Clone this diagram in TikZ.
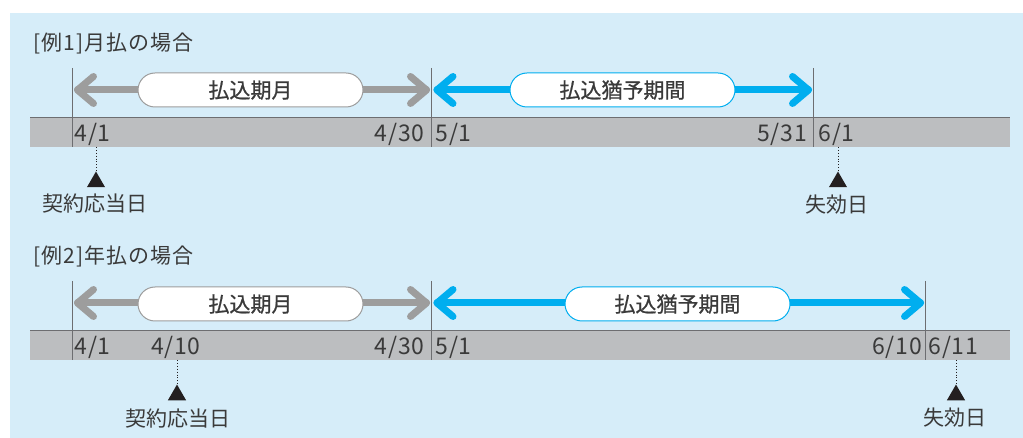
\documentclass[tikz,border=0pt]{standalone}
\usepackage{fontspec}
\setmainfont{Noto Sans CJK JP}
\newfontfamily\jpb[FakeBold=0.8]{Noto Sans CJK JP}
\newfontfamily\titlef[LetterSpace=5]{Noto Sans CJK JP}
\newfontfamily\datef[LetterSpace=3]{Noto Sans CJK JP}
\usetikzlibrary{calc,shapes.geometric}
\definecolor{bgblue}{HTML}{D6EDF9}
\definecolor{barg}{HTML}{BCBEC0}
\definecolor{barl}{HTML}{6D6E71}
\definecolor{arrg}{HTML}{9D9D9D}
\definecolor{arrb}{HTML}{00AEEF}
\definecolor{txt}{HTML}{3A3A3A}
\definecolor{trik}{HTML}{231F20}
\tikzset{
  titlelab/.style={anchor=west,inner sep=0pt,font=\titlef\fontsize{21}{21}\selectfont,text=txt},
  datelab/.style={inner sep=0pt,font=\datef\fontsize{23}{23}\selectfont,text=txt},
  lab/.style={inner sep=0pt,font=\fontsize{21}{21}\selectfont,text=txt},
  vline/.style={draw=barl,line width=0.9pt},
  grayarr/.style={draw=arrg,line width=7pt,line cap=round,line join=round},
  bluearr/.style={draw=arrb,line width=7pt,line cap=round,line join=round},
  pillg/.style={draw=arrg,fill=white,line width=1pt,rounded corners=17pt,minimum width=225pt,minimum height=34pt,inner sep=0pt,font=\jpb\fontsize{21}{21}\selectfont,text=txt},
  pillb/.style={pillg,draw=arrb},
  dotln/.style={draw=trik,line width=0.9pt,dotted},
  trimark/.style={regular polygon,regular polygon sides=3,fill=trik,minimum size=21pt,inner sep=0pt},
}
\begin{document}
\begin{tikzpicture}[x=1pt,y=-1pt]
\useasboundingbox (0,0) rectangle (1023,438);
\fill[white] (0,0) rectangle (1023,438);
\fill[bgblue] (10,13) rectangle (1023,438);

% ---------- Row 1 ----------
\node[titlelab] (t1) at (33,43) {[例1]月払の場合};
\fill[barg] (30,117) rectangle (1010,147);
\draw[barl,line width=1.2pt] (30,117.5) -- (1010,117.5);
\coordinate (a1) at (72,68);
\coordinate (b1) at (431,68);
\coordinate (c1) at (813,68);
\draw[vline] (a1) -- (72,147);
\draw[vline] (b1) -- (431,147);
\draw[vline] (c1) -- (813,147);
% gray arrow
\coordinate (gl1) at (77.5,90);
\coordinate (gr1) at (426.5,90);
\draw[grayarr] (gl1) -- (gr1);
\draw[grayarr] ($(gl1)+(16,-13.5)$) -- (gl1) -- ($(gl1)+(16,13.5)$);
\draw[grayarr] ($(gr1)+(-16,-13.5)$) -- (gr1) -- ($(gr1)+(-16,13.5)$);
\node[pillg] (p1) at (250.5,90) {払込期月};
% blue arrow
\coordinate (bl1) at (437,90);
\coordinate (br1) at (808.5,90);
\draw[bluearr] (bl1) -- (br1);
\draw[bluearr] ($(bl1)+(16,-13.5)$) -- (bl1) -- ($(bl1)+(16,13.5)$);
\draw[bluearr] ($(br1)+(-16,-13.5)$) -- (br1) -- ($(br1)+(-16,13.5)$);
\node[pillb] (q1) at (622.5,90) {払込猶予期間};
% dates
\node[datelab,anchor=base west] (d11) at (74.5,142) {4/1};
\node[datelab,anchor=base east] (d12) at (424.5,142) {4/30};
\node[datelab,anchor=base west] (d13) at (435.5,142) {5/1};
\node[datelab,anchor=base east] (d14) at (807,142) {5/31};
\node[datelab,anchor=base west] (d15) at (818.5,142) {6/1};
% markers
\coordinate (m11) at (96,147);
\node[trimark] (k11) at (96,182) {};
\draw[dotln] (m11) -- (k11.corner 1);
\node[lab] (l11) at (95,204) {契約応当日};
\coordinate (m12) at (838,147);
\node[trimark] (k12) at (838,182) {};
\draw[dotln] (m12) -- (k12.corner 1);
\node[lab] (l12) at (837,205) {失効日};

% ---------- Row 2 ----------
\begin{scope}[shift={(0,213)}]
\node[titlelab] (t2) at (33,43) {[例2]年払の場合};
\fill[barg] (30,117) rectangle (1010,147);
\draw[barl,line width=1.2pt] (30,117.5) -- (1010,117.5);
\coordinate (a2) at (72,68);
\coordinate (b2) at (431,68);
\coordinate (c2) at (925,68);
\draw[vline] (a2) -- (72,147);
\draw[vline] (b2) -- (431,147);
\draw[vline] (c2) -- (925,147);
\coordinate (gl2) at (77.5,90);
\coordinate (gr2) at (426.5,90);
\draw[grayarr] (gl2) -- (gr2);
\draw[grayarr] ($(gl2)+(16,-13.5)$) -- (gl2) -- ($(gl2)+(16,13.5)$);
\draw[grayarr] ($(gr2)+(-16,-13.5)$) -- (gr2) -- ($(gr2)+(-16,13.5)$);
\node[pillg] (p2) at (250.5,91) {払込期月};
\coordinate (bl2) at (437,90);
\coordinate (br2) at (920.5,90);
\draw[bluearr] (bl2) -- (br2);
\draw[bluearr] ($(bl2)+(16,-13.5)$) -- (bl2) -- ($(bl2)+(16,13.5)$);
\draw[bluearr] ($(br2)+(-16,-13.5)$) -- (br2) -- ($(br2)+(-16,13.5)$);
\node[pillb] (q2) at (677.5,91) {払込猶予期間};
\node[datelab,anchor=base west] (d21) at (74.5,142) {4/1};
\node[datelab,anchor=base west] (d22) at (151,142) {4/10};
\node[datelab,anchor=base east] (d23) at (424.5,142) {4/30};
\node[datelab,anchor=base west] (d24) at (435.5,142) {5/1};
\node[datelab,anchor=base east] (d25) at (922,142) {6/10};
\node[datelab,anchor=base west] (d26) at (928.5,142) {6/11};
\coordinate (m21) at (177,147);
\node[trimark] (k21) at (177,182) {};
\draw[dotln] (m21) -- (k21.corner 1);
\node[lab] (l21) at (177.5,206) {契約応当日};
\coordinate (m22) at (956,147);
\node[trimark] (k22) at (956,182) {};
\draw[dotln] (m22) -- (k22.corner 1);
\node[lab] (l22) at (955,205) {失効日};
\end{scope}
\end{tikzpicture}
\end{document}
